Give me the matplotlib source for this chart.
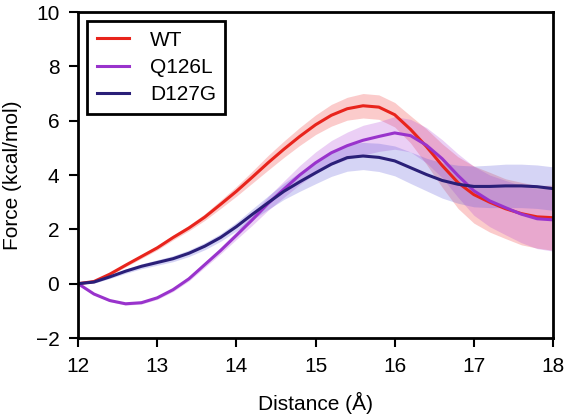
import numpy as np
import matplotlib
matplotlib.use("Agg")
import matplotlib.pyplot as plt

plt.rcParams['font.family'] = ['Liberation Sans', 'DejaVu Sans']

distance = [12.0, 12.2, 12.4, 12.6, 12.8, 13.0, 13.2, 13.4, 13.6, 13.8,
            14.0, 14.2, 14.4, 14.6, 14.8, 15.0, 15.2, 15.4, 15.6, 15.8,
            16.0, 16.2, 16.4, 16.6, 16.8, 17.0, 17.2, 17.4, 17.6, 17.8, 18.0]

wt_mean = [0.00, 0.08, 0.35, 0.68, 1.00, 1.32, 1.70, 2.05, 2.45, 2.92,
           3.40, 3.92, 4.45, 4.95, 5.42, 5.85, 6.20, 6.44, 6.55, 6.50,
           6.22, 5.68, 5.05, 4.35, 3.72, 3.28, 3.00, 2.76, 2.58, 2.46, 2.43]
wt_sd = [0.00, 0.03, 0.05, 0.06, 0.07, 0.08, 0.09, 0.10, 0.12, 0.15,
         0.18, 0.22, 0.27, 0.30, 0.33, 0.36, 0.40, 0.42, 0.45, 0.45,
         0.45, 0.50, 0.65, 0.80, 0.95, 1.05, 1.10, 1.10, 1.15, 1.15, 1.20]

q126l_mean = [0.00, -0.38, -0.62, -0.74, -0.70, -0.52, -0.22, 0.18, 0.70, 1.22,
              1.78, 2.35, 2.95, 3.48, 4.00, 4.45, 4.82, 5.08, 5.28, 5.42,
              5.55, 5.45, 5.10, 4.60, 3.98, 3.42, 3.05, 2.80, 2.56, 2.39, 2.35]
q126l_sd = [0.00, 0.03, 0.04, 0.05, 0.05, 0.06, 0.07, 0.08, 0.10, 0.12,
            0.15, 0.20, 0.25, 0.30, 0.35, 0.40, 0.45, 0.50, 0.55, 0.55,
            0.60, 0.60, 0.65, 0.70, 0.80, 0.90, 0.95, 1.00, 1.05, 1.10, 1.15]

d127g_mean = [0.00, 0.06, 0.25, 0.46, 0.64, 0.78, 0.92, 1.12, 1.38, 1.70,
              2.10, 2.55, 2.98, 3.40, 3.75, 4.08, 4.40, 4.64, 4.70, 4.65,
              4.52, 4.27, 4.02, 3.80, 3.66, 3.58, 3.58, 3.60, 3.60, 3.57, 3.50]
d127g_sd = [0.00, 0.04, 0.06, 0.08, 0.09, 0.10, 0.11, 0.12, 0.13, 0.14,
            0.16, 0.20, 0.25, 0.30, 0.35, 0.40, 0.45, 0.50, 0.50, 0.52,
            0.55, 0.58, 0.60, 0.65, 0.70, 0.75, 0.78, 0.80, 0.80, 0.80, 0.80]

series = [
    ("WT", wt_mean, wt_sd, "#e8241c", "#f03030"),
    ("Q126L", q126l_mean, q126l_sd, "#9933cc", "#b040d8"),
    ("D127G", d127g_mean, d127g_sd, "#2a1f78", "#5a55d8"),
]

fig = plt.figure(figsize=(5.66, 4.15), dpi=100)
ax = fig.add_axes([0.138, 0.1855, 0.839, 0.7855])

x = np.array(distance)
for name, m, s, lc, bc in series:
    m = np.array(m); s = np.array(s)
    ax.fill_between(x, m - s, m + s, color=bc, alpha=0.25, linewidth=0)
for name, m, s, lc, bc in series:
    ax.plot(x, m, color=lc, lw=2.2, label=name)

ax.set_xlim(12, 18)
ax.set_ylim(-2, 10)
ax.set_xticks([12, 13, 14, 15, 16, 17, 18])
ax.set_yticks([-2, 0, 2, 4, 6, 8, 10])
ax.tick_params(direction='out', length=6.5, width=1.5, labelsize=15, pad=7)
for sp in ax.spines.values():
    sp.set_linewidth(2)
ax.set_xlabel("Distance (Å)", fontsize=15, labelpad=12)
ax.set_ylabel("Force (kcal/mol)", fontsize=15, labelpad=10)

leg = ax.legend(loc='upper left', fontsize=15, fancybox=False, framealpha=1,
                edgecolor='black', handlelength=1.55, handletextpad=1.0,
                borderpad=0.45, labelspacing=0.4, bbox_to_anchor=(0.0, 1.0),
                borderaxespad=0.45)
leg.get_frame().set_linewidth(2)

fig.savefig("out.png", dpi=100)
